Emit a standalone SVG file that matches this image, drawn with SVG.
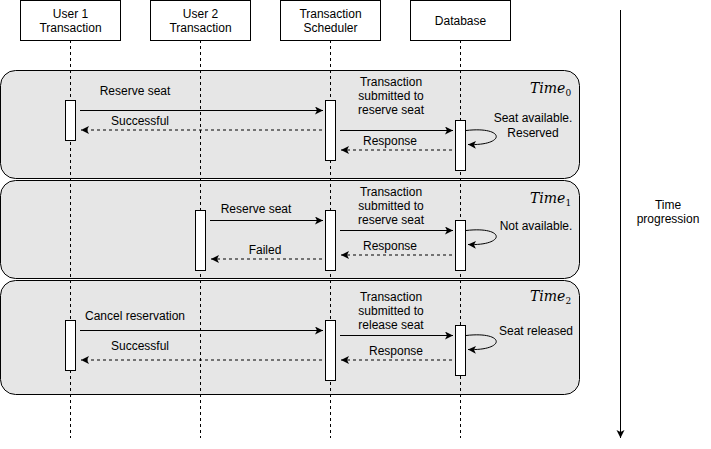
<svg xmlns="http://www.w3.org/2000/svg" width="711" height="449" viewBox="0 0 711 449">
<defs>
<style>
text{font-family:"Liberation Sans",Helvetica,Arial,sans-serif;font-size:12px;fill:#000;text-anchor:middle}
.box{fill:#fff;stroke:#000;stroke-width:1}
.panel{fill:#e6e6e6;stroke:#000;stroke-width:1}
.life{stroke:#000;stroke-width:1;stroke-dasharray:3 3;fill:none}
.msg{stroke:#000;stroke-width:1;fill:none;marker-end:url(#arr)}
.ret{stroke:#000;stroke-width:1;stroke-dasharray:3 3;fill:none;marker-end:url(#arr)}
.tm{font-family:"DejaVu Serif","Liberation Serif",serif;font-style:italic;font-weight:normal;font-size:14px;text-anchor:start}
.sub{font-family:"DejaVu Serif","Liberation Serif",serif;font-style:normal;font-size:9px}
</style>
<marker id="arr" markerUnits="userSpaceOnUse" markerWidth="10" markerHeight="10" refX="8" refY="4" orient="auto">
<path d="M0,0 L8,4 L0,8 L2,4 z" fill="#000"/>
</marker>
</defs>
<rect width="711" height="449" fill="#fff"/>

<g id="panel0"><rect class="panel" x="0.5" y="70.5" width="579" height="108" rx="15"/>
<text class="tm" x="530" y="93">Time<tspan class="sub" dy="3">0</tspan></text></g>
<g id="panel1"><rect class="panel" x="0.5" y="180.5" width="579" height="98" rx="15"/>
<text class="tm" x="530" y="203">Time<tspan class="sub" dy="3">1</tspan></text></g>
<g id="panel2"><rect class="panel" x="0.5" y="280.5" width="579" height="114" rx="15"/>
<text class="tm" x="530" y="301">Time<tspan class="sub" dy="3">2</tspan></text></g>

<g id="lifelines">
<line class="life" x1="70.5" y1="40" x2="70.5" y2="438"/>
<line class="life" x1="200.5" y1="40" x2="200.5" y2="438"/>
<line class="life" x1="330.5" y1="40" x2="330.5" y2="438"/>
<line class="life" x1="460.5" y1="40" x2="460.5" y2="438"/>
</g>

<g id="user1"><rect class="box" x="20.5" y="0.5" width="100" height="40"/><text x="70.5" y="18">User 1</text><text x="70.5" y="32">Transaction</text></g>
<g id="user2"><rect class="box" x="150.5" y="0.5" width="100" height="40"/><text x="200.5" y="18">User 2</text><text x="200.5" y="32">Transaction</text></g>
<g id="scheduler"><rect class="box" x="280.5" y="0.5" width="100" height="40"/><text x="330.5" y="18">Transaction</text><text x="330.5" y="32">Scheduler</text></g>
<g id="database"><rect class="box" x="410.5" y="0.5" width="100" height="40"/><text x="460.5" y="25">Database</text></g>

<g id="activations">
<rect class="box" x="65.5" y="100.5" width="10" height="40"/>
<rect class="box" x="325.5" y="100.5" width="10" height="60"/>
<rect class="box" x="455.5" y="120.5" width="10" height="50"/>
<rect class="box" x="195.5" y="210.5" width="10" height="60"/>
<rect class="box" x="325.5" y="210.5" width="10" height="60"/>
<rect class="box" x="455.5" y="220.5" width="10" height="50"/>
<rect class="box" x="65.5" y="320.5" width="10" height="50"/>
<rect class="box" x="325.5" y="320.5" width="10" height="60"/>
<rect class="box" x="455.5" y="325.5" width="10" height="50"/>
</g>

<g id="connectors">
<line class="msg" x1="80" y1="110.5" x2="323" y2="110.5"/>
<line class="ret" x1="322" y1="130" x2="81" y2="130"/>
<line class="msg" x1="340" y1="130.5" x2="453" y2="130.5"/>
<line class="ret" x1="452" y1="150" x2="341" y2="150"/>
<path class="msg" d="M466,130.5 C506,126 506,146 468,144.5"/>

<line class="msg" x1="210" y1="220.5" x2="323" y2="220.5"/>
<line class="ret" x1="322" y1="259" x2="211" y2="259"/>
<line class="msg" x1="340" y1="230.5" x2="453" y2="230.5"/>
<line class="ret" x1="452" y1="255" x2="341" y2="255"/>
<path class="msg" d="M466,230.5 C506,226 506,246 468,244.5"/>

<line class="msg" x1="80" y1="330.5" x2="323" y2="330.5"/>
<line class="ret" x1="322" y1="360" x2="81" y2="360"/>
<line class="msg" x1="340" y1="335.5" x2="453" y2="335.5"/>
<line class="ret" x1="452" y1="360" x2="341" y2="360"/>
<path class="msg" d="M466,335.5 C506,331 506,351 468,349.5"/>

<line class="msg" x1="620.5" y1="10" x2="620.5" y2="438"/>
</g>

<g id="labels">
<text x="135" y="95">Reserve seat</text>
<text x="140" y="125">Successful</text>
<text x="391" y="86">Transaction</text>
<text x="391" y="100">submitted to</text>
<text x="391" y="114">reserve seat</text>
<text x="390" y="145">Response</text>
<text x="533" y="122">Seat available.</text>
<text x="533" y="137">Reserved</text>

<text x="256" y="213">Reserve seat</text>
<text x="265" y="254">Failed</text>
<text x="391" y="196">Transaction</text>
<text x="391" y="210">submitted to</text>
<text x="391" y="224">reserve seat</text>
<text x="390" y="250">Response</text>
<text x="536" y="230">Not available.</text>

<text x="135" y="320">Cancel reservation</text>
<text x="140" y="350">Successful</text>
<text x="391" y="301">Transaction</text>
<text x="391" y="315">submitted to</text>
<text x="391" y="329">release seat</text>
<text x="396" y="355">Response</text>
<text x="536" y="335">Seat released</text>

<text x="668" y="209">Time</text>
<text x="668" y="223">progression</text>
</g>
</svg>
